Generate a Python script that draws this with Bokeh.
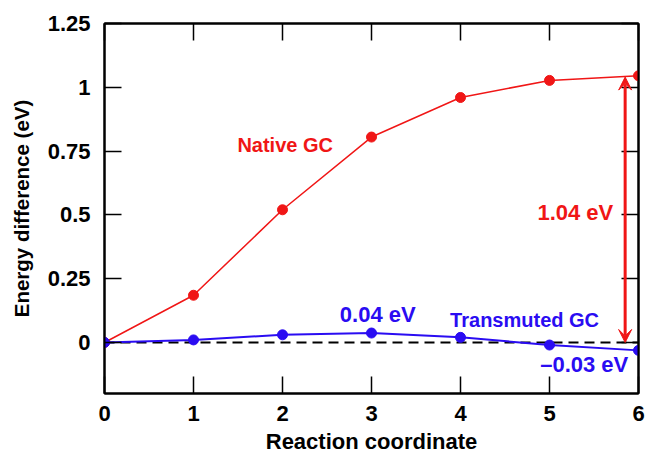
from bokeh.plotting import figure
from bokeh.models import (LinearAxis, Range1d, FixedTicker, Label, Arrow, VeeHead,
                          Span, CustomJSTickFormatter)
from bokeh.embed import file_html
from bokeh.resources import INLINE

# Data
coord = [0, 1, 2, 3, 4, 5, 6]
native_gc = [0.0, 0.185, 0.52, 0.805, 0.96, 1.027, 1.045]
transmuted_gc = [0.0, 0.01, 0.03, 0.037, 0.02, -0.01, -0.031]
x_ticks = [0, 1, 2, 3, 4, 5, 6]
y_ticks = [0, 0.25, 0.5, 0.75, 1, 1.25]
y_tick_labels = {0: "0", 0.25: "0.25", 0.5: "0.5", 0.75: "0.75", 1: "1", 1.25: "1.25"}
x_title = "Reaction coordinate"
y_title = "Energy difference (eV)"

RED = "#f01616"
BLUE = "#2a0cf2"
FONT = "Liberation Sans"

p = figure(width=645, height=456, output_backend="svg", toolbar_location=None,
           x_range=Range1d(0, 6), y_range=Range1d(-0.2, 1.25),
           x_axis_location=None, y_axis_location=None,
           min_border_left=104, min_border_right=7, min_border_top=23, min_border_bottom=61)
p.grid.visible = False
p.outline_line_color = "black"
p.outline_line_width = 2
p.background_fill_color = "white"
p.border_fill_color = "white"

def style_axis(ax, show_labels, label_size="22px"):
    ax.axis_line_color = "black"
    ax.axis_line_width = 2
    ax.major_tick_in = 17
    ax.major_tick_out = 0
    ax.major_tick_line_width = 1.5
    ax.minor_tick_line_color = None
    if show_labels:
        ax.major_label_text_font = FONT
        ax.major_label_text_font_style = "bold"
        ax.major_label_text_font_size = "22px"
        ax.major_label_text_color = "black"
        ax.axis_label_text_font = FONT
        ax.axis_label_text_font_style = "bold"
        ax.axis_label_text_font_size = label_size
        ax.axis_label_text_color = "black"
    else:
        ax.formatter = CustomJSTickFormatter(code="return ''")
        ax.major_label_standoff = 0
        ax.major_label_text_font_size = "1px"

xb = LinearAxis(ticker=FixedTicker(ticks=x_ticks), axis_label=x_title)
style_axis(xb, True, "22px")
xb.major_label_standoff = 12
xb.axis_label_standoff = 5
p.add_layout(xb, "below")

yl = LinearAxis(ticker=FixedTicker(ticks=y_ticks), axis_label=y_title)
style_axis(yl, True, "20.5px")
yl.major_label_overrides = y_tick_labels
yl.major_label_standoff = 14
yl.axis_label_standoff = 12
p.add_layout(yl, "left")

xt = LinearAxis(ticker=FixedTicker(ticks=x_ticks))
style_axis(xt, False)
p.add_layout(xt, "above")

yr = LinearAxis(ticker=FixedTicker(ticks=y_ticks))
style_axis(yr, False)
p.add_layout(yr, "right")

# zero reference line
p.add_layout(Span(location=0, dimension="width", line_color="black", line_width=2,
                  line_dash="10 6", level="underlay"))

p.line(coord, native_gc, line_color=RED, line_width=1.5)
p.scatter(coord, native_gc, size=10, fill_color=RED, line_color=RED)
p.line(coord, transmuted_gc, line_color=BLUE, line_width=2)
p.scatter(coord, transmuted_gc, size=10, fill_color=BLUE, line_color=BLUE)

# double arrow for barrier
p.add_layout(Arrow(x_start=5.85, y_start=0.0, x_end=5.85, y_end=1.04,
                   line_color=RED, line_width=3,
                   start=VeeHead(size=13, fill_color=RED, line_color=RED),
                   end=VeeHead(size=13, fill_color=RED, line_color=RED)))

def lab(x, y, t, color, size):
    p.add_layout(Label(x=x, y=y, text=t, text_color=color, text_font=FONT,
                       text_font_style="bold", text_font_size=size,
                       text_align="center", text_baseline="middle"))

lab(2.03, 0.775, "Native GC", RED, "20px")
lab(5.29, 0.51, "1.04 eV", RED, "22px")
lab(3.07, 0.109, "0.04 eV", BLUE, "22px")
lab(4.72, 0.09, "Transmuted GC", BLUE, "20px")
lab(5.39, -0.086, "\u20130.03 eV", BLUE, "22px")

open("out.html", "w").write(file_html(p, INLINE))
